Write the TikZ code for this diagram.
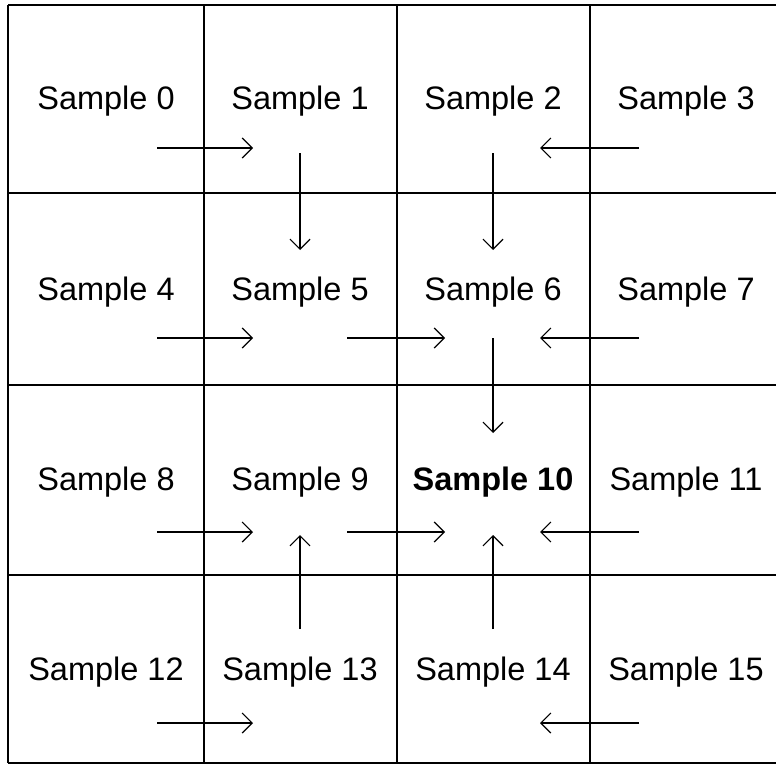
\documentclass[tikz,border=0pt]{standalone}
\usepackage{fontspec}
\setmainfont{Liberation Sans}
\usetikzlibrary{arrows.meta,calc}
\begin{document}
\begin{tikzpicture}[x=1pt,y=-1pt,
  gridline/.style={line width=1.3pt,black},
  lbl/.style={anchor=base,inner sep=0pt,font=\fontsize{32.5}{38}\selectfont},
  flow/.style={line width=1.2pt,-{Straight Barb[length=10pt,width=20pt,line width=1.2pt]}}]
\useasboundingbox (0,0) rectangle (776,765);
% grid
\draw[gridline] (8,5) -- (776,5);
\draw[gridline] (8,193) -- (776,193);
\draw[gridline] (8,385) -- (776,385);
\draw[gridline] (8,575) -- (776,575);
\draw[gridline] (8,763) -- (776,763);
\draw[gridline] (8,5) -- (8,763);
\draw[gridline] (204,5) -- (204,763);
\draw[gridline] (397,5) -- (397,763);
\draw[gridline] (590,5) -- (590,763);
% labels
\foreach \r/\y in {0/110,1/300,2/490,3/680}{
  \foreach \c/\x in {0/106,1/300,2/493,3/686}{
    \pgfmathtruncatemacro{\n}{4*\r+\c}
    \ifnum\n=10
      \node[lbl,font=\fontsize{32.5}{38}\selectfont\bfseries] (s\n) at (\x,\y) {Sample \n};
    \else
      \node[lbl] (s\n) at (\x,\y) {Sample \n};
    \fi
  }
}
% horizontal arrows
\draw[flow] ($(s0.base)+(51,38)$) -- ($(s1.base)+(-47,38)$);
\draw[flow] ($(s3.base)+(-47,38)$) -- ($(s2.base)+(47,38)$);
\draw[flow] ($(s4.base)+(51,38)$) -- ($(s5.base)+(-47,38)$);
\draw[flow] ($(s5.base)+(47,38)$) -- ($(s6.base)+(-48,38)$);
\draw[flow] ($(s7.base)+(-47,38)$) -- ($(s6.base)+(47,38)$);
\draw[flow] ($(s8.base)+(51,42)$) -- ($(s9.base)+(-47,42)$);
\draw[flow] ($(s9.base)+(47,42)$) -- ($(s10.base)+(-48,42)$);
\draw[flow] ($(s11.base)+(-47,42)$) -- ($(s10.base)+(47,42)$);
\draw[flow] ($(s12.base)+(51,43)$) -- ($(s13.base)+(-47,43)$);
\draw[flow] ($(s15.base)+(-47,43)$) -- ($(s14.base)+(47,43)$);
% vertical arrows
\draw[flow] ($(s1.base)+(0,43)$) -- ($(s5.base)+(0,-50)$);
\draw[flow] ($(s2.base)+(0,43)$) -- ($(s6.base)+(0,-50)$);
\draw[flow] ($(s6.base)+(0,38)$) -- ($(s10.base)+(0,-57)$);
\draw[flow] ($(s13.base)+(0,-51)$) -- ($(s9.base)+(0,45)$);
\draw[flow] ($(s14.base)+(0,-51)$) -- ($(s10.base)+(0,45)$);
\end{tikzpicture}
\end{document}
